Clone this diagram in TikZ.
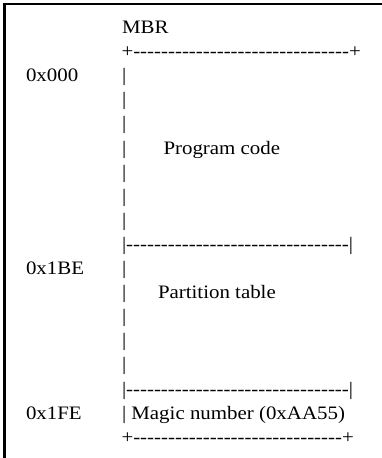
\documentclass[tikz,border=0pt]{standalone}
\usepackage{fontspec}
\newfontfamily\asc{Liberation Serif}[FakeStretch=1.1]
\newcommand\tenD{----------}
\tikzset{
  txt/.style={inner sep=0pt, outer sep=0pt, anchor=base west, font=\asc\fontsize{19}{22}\selectfont},
  frameline/.style={line width=2.3pt, black}
}
\begin{document}
\begin{tikzpicture}[x=1pt,y=-1pt]
\useasboundingbox (0,0) rectangle (382,458);
\draw[frameline] (4.5,458) -- (4.5,3.8) -- (382,3.8);
% line 0
\node[txt] (mbr) at (122,33.5) {MBR};
% line 1
\node[txt] (top) at (121.5,57.6) {+\tenD\tenD\tenD-+};
% line 2
\node[txt] (a0) at (26,81.7) {0x000};
\node[txt] (b2) at (122,81.7) {|};
\node[txt] (b3) at (122,105.8) {|};
\node[txt] (b4) at (122,129.9) {|};
\node[txt] (b5) at (122,154) {|};
\node[txt] (prog) at (163.5,154) {Program code};
\node[txt] (b6) at (122,178.1) {|};
\node[txt] (b7) at (122,202.2) {|};
\node[txt] (b8) at (122,226.3) {|};
\node[txt] (sep1) at (122,250.4) {|\tenD\tenD\tenD--|};
\node[txt] (a1) at (26,274.5) {0x1BE};
\node[txt] (b10) at (122,274.5) {|};
\node[txt] (b11) at (122,298.6) {|};
\node[txt] (part) at (158,298.6) {Partition table};
\node[txt] (b12) at (122,322.7) {|};
\node[txt] (b13) at (122,346.8) {|};
\node[txt] (b14) at (122,370.9) {|};
\node[txt] (sep2) at (122,395) {|\tenD\tenD\tenD--|};
\node[txt] (a2) at (26,419.1) {0x1FE};
\node[txt] (magic) at (122,419.1) {| Magic number (0xAA55)};
\node[txt] (bot) at (121.5,443.2) {+\tenD\tenD\tenD+};
\end{tikzpicture}
\end{document}
